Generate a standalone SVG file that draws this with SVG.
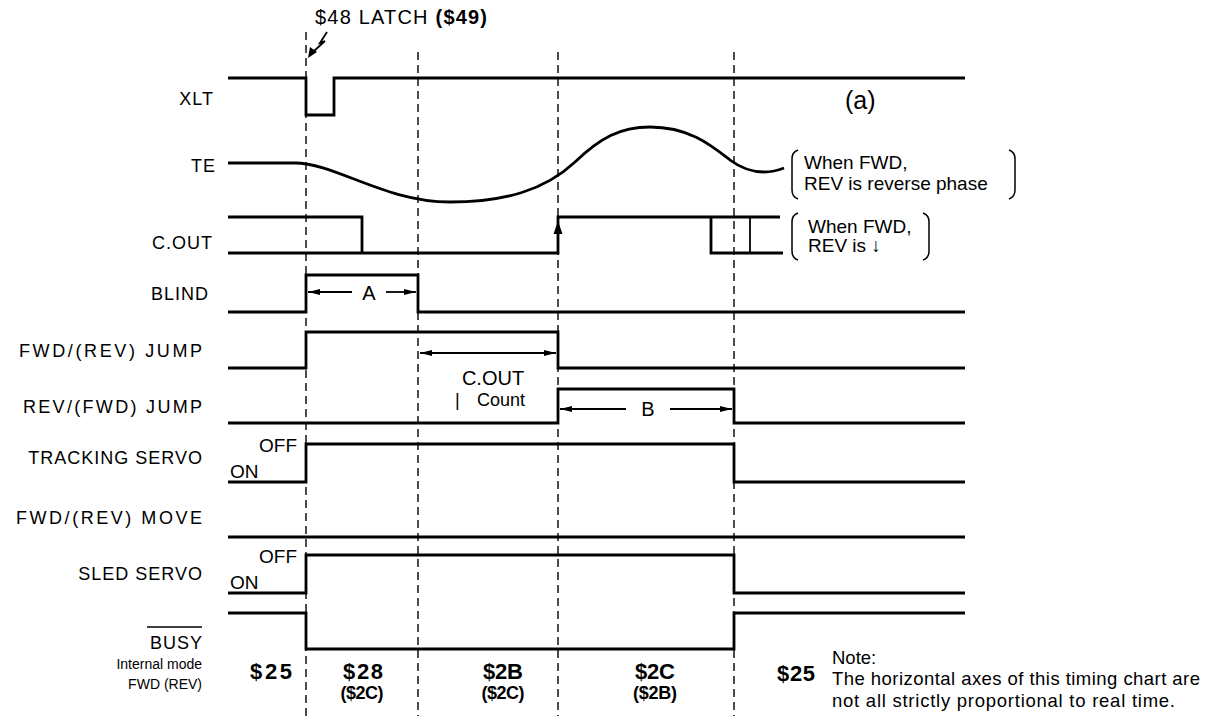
<svg xmlns="http://www.w3.org/2000/svg" width="1216" height="720" viewBox="0 0 1216 720">
<defs>
<style>
.sig{fill:none;stroke:#000;stroke-width:2.8;stroke-linejoin:miter}
.thin{fill:none;stroke:#000;stroke-width:1.8}
.dash{fill:none;stroke:#000;stroke-width:1.4;stroke-dasharray:8 5}
.lbl{font-family:"Liberation Sans",Arial,sans-serif;font-size:18px;letter-spacing:1px;fill:#000;text-anchor:end}
.txt{font-family:"Liberation Sans",Arial,sans-serif;fill:#000}
.note{font-family:"Liberation Sans",Arial,sans-serif;font-size:18.5px;fill:#000}
.st{font-family:"Liberation Sans",Arial,sans-serif;font-size:22px;font-weight:bold;fill:#000;text-anchor:middle}
.st2{font-family:"Liberation Sans",Arial,sans-serif;font-size:18px;font-weight:bold;fill:#000;text-anchor:middle}
.brk{fill:none;stroke:#000;stroke-width:1.5}
</style>
<marker id="ah" viewBox="0 0 12 6" refX="12" refY="3" markerWidth="12" markerHeight="6" orient="auto-start-reverse" markerUnits="userSpaceOnUse"><path d="M0,0 L12,3 L0,6 z" fill="#000"/></marker>
</defs>
<rect width="1216" height="720" fill="#fff"/>

<g id="guides">
<line class="dash" x1="306" y1="32" x2="306" y2="716"/>
<line class="dash" x1="418" y1="52" x2="418" y2="716"/>
<line class="dash" x1="558" y1="52" x2="558" y2="716"/>
<line class="dash" x1="734" y1="52" x2="734" y2="716"/>
</g>

<g id="latch">
<text class="txt" x="315" y="24" style="font-size:20px" textLength="172">$48 LATCH <tspan font-weight="bold">($49)</tspan></text>
<path class="thin" d="M327,32 L320,43 L325,41 L314,51" stroke-width="2.2"/>
<polygon points="308,58 310,47 317,52" fill="#000"/>
</g>

<g id="xlt">
<text class="lbl" x="214" y="104.5">XLT</text>
<path class="sig" d="M228,78 L306,78 L306,115 L334,115 L334,78 L965,78"/>
<text class="txt" x="845" y="109" style="font-size:25px">(a)</text>
</g>

<g id="te">
<text class="lbl" x="216" y="171.5">TE</text>
<path class="sig" d="M228,163 L295,163 C335,163 385,202 450,202 C505,202 545,190 575,162 C600,138 620,127 650,127 C690,127 712,146 730,160 C742,169 752,172 764,172 C774,172 779,170 784,168"/>
<path class="brk" d="M798,150 Q792,152 792,159 L792,190 Q792,197 798,199"/>
<path class="brk" d="M1009,150 Q1015,152 1015,159 L1015,190 Q1015,197 1009,199"/>
<text class="txt" x="804" y="169" style="font-size:19px">When FWD,</text>
<text class="txt" x="804" y="190" style="font-size:19px">REV is reverse phase</text>
</g>

<g id="cout">
<text class="lbl" x="213" y="248.5">C.OUT</text>
<path class="sig" d="M228,217 L362,217 L362,253"/>
<path class="sig" d="M228,253 L558,253 L558,217 L780,217"/>
<polygon points="558,221 553.5,234 562.5,234" fill="#000"/>
<path class="sig" d="M711,217 L711,253 L783,253"/>
<line class="thin" x1="750" y1="217" x2="750" y2="253"/>
<path class="brk" d="M798,213 Q792,215 792,222 L792,251 Q792,258 798,260"/>
<path class="brk" d="M923,213 Q929,215 929,222 L929,251 Q929,258 923,260"/>
<text class="txt" x="808" y="233" style="font-size:19px">When FWD,</text>
<text class="txt" x="808" y="252" style="font-size:19px">REV is ↓</text>
</g>

<g id="blind">
<text class="lbl" x="209" y="299.5">BLIND</text>
<path class="sig" d="M228,312 L306,312 L306,275 L418,275 L418,312 L965,312"/>
<text class="txt" x="369" y="300" text-anchor="middle" style="font-size:20px">A</text>
</g>

<g id="fwdjump">
<text class="lbl" x="203" y="356.5" textLength="184">FWD/(REV) JUMP</text>
<path class="sig" d="M228,368 L306,368 L306,332 L558,332 L558,368 L965,368"/>
<text class="txt" x="493" y="385" text-anchor="middle" style="font-size:20px">C.OUT</text>
<text class="txt" x="455" y="406" style="font-size:18px">|</text>
<text class="txt" x="477" y="406" style="font-size:18px">Count</text>
</g>

<g id="revjump">
<text class="lbl" x="203" y="412.5" textLength="180">REV/(FWD) JUMP</text>
<path class="sig" d="M228,423 L558,423 L558,389 L734,389 L734,423 L965,423"/>
<text class="txt" x="648" y="416" text-anchor="middle" style="font-size:20px">B</text>
</g>

<g id="tracking">
<text class="lbl" x="203" y="463.5">TRACKING SERVO</text>
<path class="sig" d="M228,482 L306,482 L306,444 L734,444 L734,482 L965,482"/>
<text class="txt" x="259" y="452" style="font-size:19px">OFF</text>
<text class="txt" x="230" y="478" style="font-size:19px">ON</text>
</g>

<g id="move">
<text class="lbl" x="203" y="523.5" textLength="187">FWD/(REV) MOVE</text>
<path class="sig" d="M228,537 L965,537"/>
</g>

<g id="sled">
<text class="lbl" x="203" y="579.5">SLED SERVO</text>
<path class="sig" d="M228,593 L306,593 L306,555 L734,555 L734,593 L965,593"/>
<text class="txt" x="259" y="563" style="font-size:19px">OFF</text>
<text class="txt" x="230" y="589" style="font-size:19px">ON</text>
</g>

<g id="busy">
<text class="lbl" x="203" y="648.5">BUSY</text>
<line x1="147" y1="627" x2="202" y2="627" stroke="#000" stroke-width="1.5"/>
<path class="sig" d="M228,613 L306,613 L306,649 L734,649 L734,613 L965,613"/>
</g>

<g id="mode">
<text class="txt" x="202" y="669" text-anchor="end" style="font-size:14px">Internal mode</text>
<text class="txt" x="202" y="689" text-anchor="end" style="font-size:14px">FWD (REV)</text>
<text class="st" x="271" y="679" textLength="42">$25</text>
<text class="st" x="363" y="679" textLength="40">$28</text>
<text class="st2" x="362" y="699" textLength="43">($2C)</text>
<text class="st" x="503" y="679" textLength="40">$2B</text>
<text class="st2" x="503" y="699" textLength="43">($2C)</text>
<text class="st" x="655" y="679" textLength="40">$2C</text>
<text class="st2" x="655" y="699" textLength="44">($2B)</text>
<text class="st" x="796" y="681" textLength="38">$25</text>
</g>

<g id="note">
<text class="note" x="832" y="664">Note:</text>
<text class="note" x="832" y="685" textLength="368">The horizontal axes of this timing chart are</text>
<text class="note" x="832" y="707" textLength="343">not all strictly proportional to real time.</text>
</g>

<g id="connectors">
<line class="thin" x1="308" y1="292" x2="352" y2="292" marker-start="url(#ah)"/>
<line class="thin" x1="386" y1="292" x2="416" y2="292" marker-end="url(#ah)"/>
<line class="thin" x1="420" y1="353" x2="556" y2="353" marker-start="url(#ah)" marker-end="url(#ah)"/>
<line class="thin" x1="560" y1="409" x2="626" y2="409" marker-start="url(#ah)"/>
<line class="thin" x1="670" y1="409" x2="732" y2="409" marker-end="url(#ah)"/>
</g>
</svg>
